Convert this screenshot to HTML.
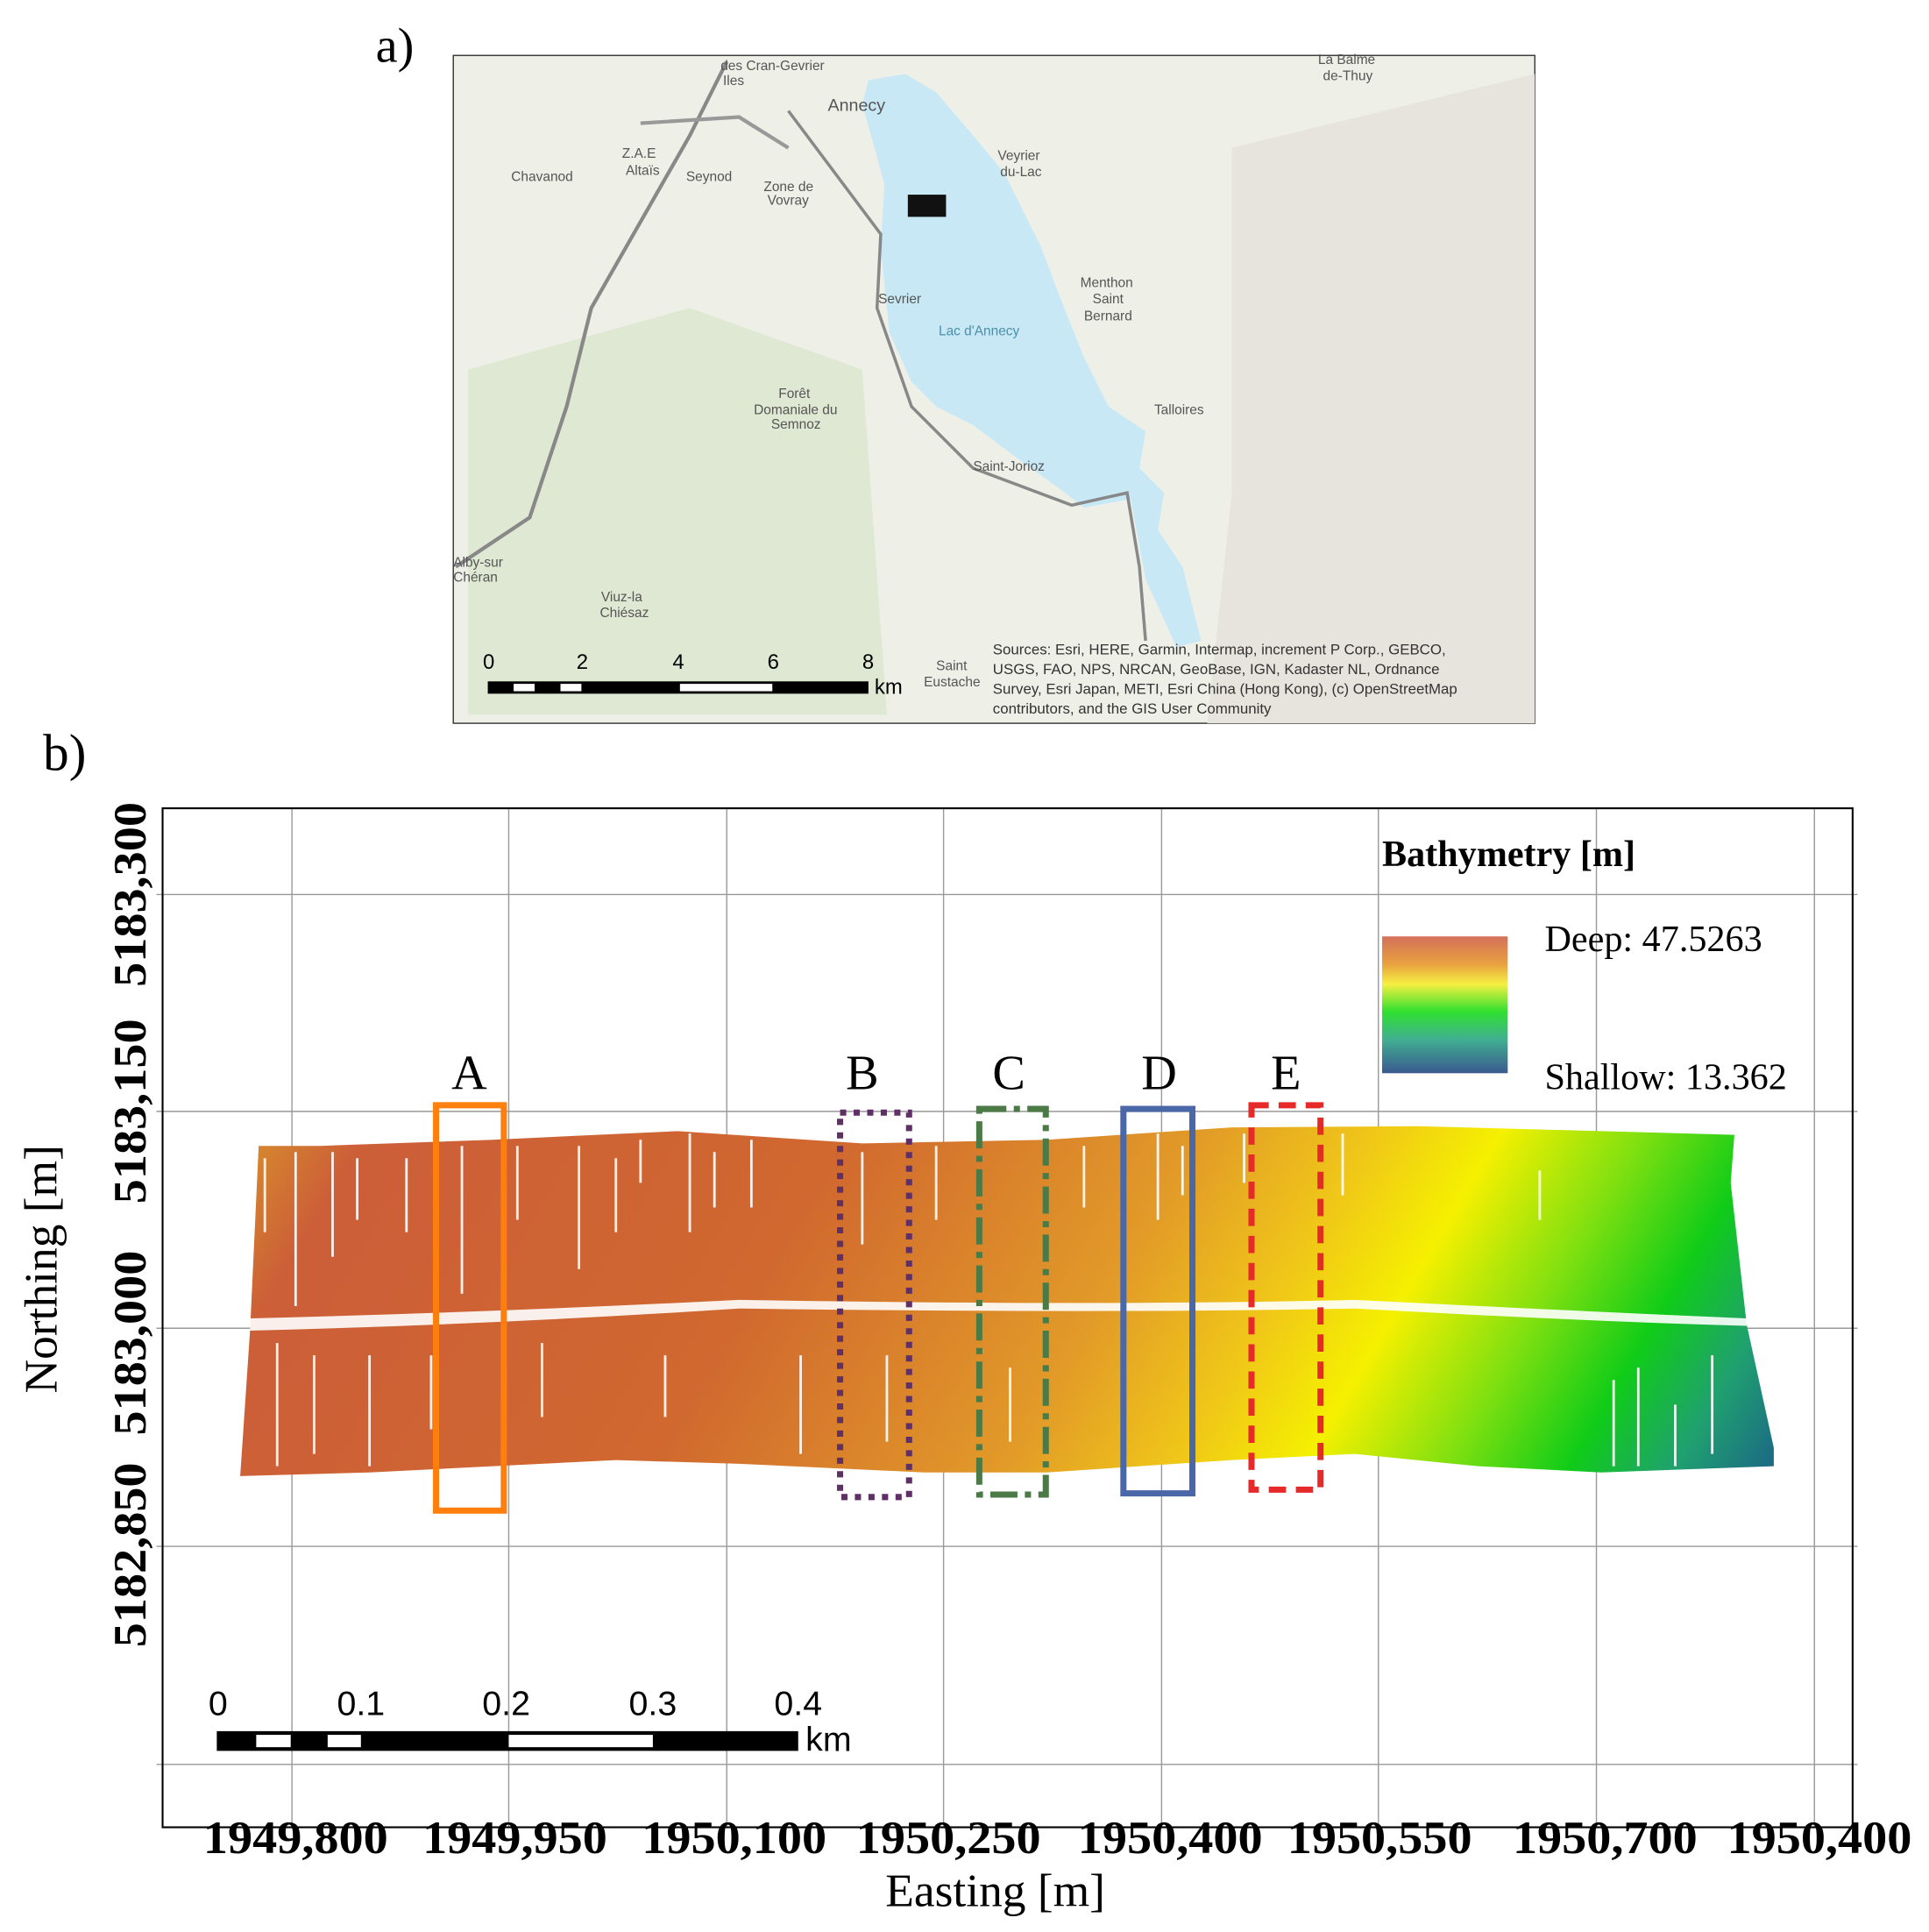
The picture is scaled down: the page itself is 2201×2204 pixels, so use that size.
<!DOCTYPE html>
<html><head><meta charset="utf-8"><style>
html,body{margin:0;padding:0;background:#fff;}
svg{display:block;}
</style></head><body>
<svg width="2201" height="2204" viewBox="0 0 1566 1568" preserveAspectRatio="none" xmlns="http://www.w3.org/2000/svg">
<defs>
<linearGradient id="bath" x1="195" y1="900" x2="1260" y2="1530" gradientUnits="userSpaceOnUse">
<stop offset="0" stop-color="#d8952c"/>
<stop offset="0.08" stop-color="#cc5e38"/>
<stop offset="0.35" stop-color="#d0682f"/>
<stop offset="0.55" stop-color="#e29a28"/>
<stop offset="0.65" stop-color="#f0c818"/>
<stop offset="0.72" stop-color="#f5f000"/>
<stop offset="0.8" stop-color="#80e010"/>
<stop offset="0.87" stop-color="#10cc18"/>
<stop offset="0.93" stop-color="#20a070"/>
<stop offset="1" stop-color="#1a5a8a"/>
</linearGradient>
<linearGradient id="cbar" x1="0" y1="0" x2="0" y2="1">
<stop offset="0" stop-color="#d4705a"/>
<stop offset="0.2" stop-color="#e8a040"/>
<stop offset="0.35" stop-color="#f5f040"/>
<stop offset="0.55" stop-color="#30e030"/>
<stop offset="0.75" stop-color="#40b090"/>
<stop offset="1" stop-color="#3a5a90"/>
</linearGradient>
</defs>
<!-- panel a -->
<text x="305" y="50" font-family="Liberation Serif" font-size="40">a)</text>
<rect x="368" y="45" width="878" height="542" fill="#eef0e8" stroke="#333" stroke-width="1"/>
<path d="M380 300 L560 250 L700 300 L720 580 L380 580Z" fill="#dfe8d2"/>
<path d="M1000 120 L1246 60 L1246 587 L980 587 L1000 400Z" fill="#e6e4dc"/>
<path d="M705 65 L735 60 L760 75 L790 110 L815 140 L845 200 L860 240 L880 290 L900 330 L930 350 L925 380 L945 400 L940 430 L960 460 L975 520 L955 525 L930 470 L918 405 L880 412 L862 398 L830 375 L790 345 L760 330 L740 310 L722 270 L715 200 L718 150 L710 120 L700 85Z" fill="#c8e8f6"/>
<rect x="737" y="158" width="31" height="18" fill="#111"/>
<path d="M590 50 L560 110 L480 250 L460 330 L430 420 L370 460" stroke="#888" stroke-width="3" fill="none"/>
<path d="M640 90 L715 190 L712 250 L740 330 L790 380 L870 410 L915 400 L925 460 L930 520" stroke="#888" stroke-width="2.5" fill="none"/>
<path d="M520 100 L600 95 L640 120" stroke="#999" stroke-width="3" fill="none"/>
<g font-family="Liberation Sans" font-size="11" fill="#555">
<text x="585" y="57">des Cran-Gevrier</text><text x="587" y="69">Iles</text>
<text x="672" y="90" font-size="14">Annecy</text>
<text x="415" y="147">Chavanod</text><text x="505" y="128">Z.A.E</text><text x="508" y="142">Altaïs</text>
<text x="557" y="147">Seynod</text><text x="620" y="155">Zone de</text><text x="623" y="166">Vovray</text>
<text x="810" y="130">Veyrier</text><text x="812" y="143">du-Lac</text>
<text x="713" y="246">Sevrier</text><text x="762" y="272" fill="#4a90a8">Lac d'Annecy</text>
<text x="877" y="233">Menthon</text><text x="887" y="246">Saint</text><text x="880" y="260">Bernard</text>
<text x="937" y="336">Talloires</text><text x="790" y="382">Saint-Jorioz</text>
<text x="632" y="323">Forêt</text><text x="612" y="336">Domaniale du</text><text x="626" y="348">Semnoz</text>
<text x="488" y="488">Viuz-la</text><text x="487" y="501">Chiésaz</text>
<text x="1070" y="52">La Balme</text><text x="1074" y="65">de-Thuy</text>
<text x="368" y="460">Alby-sur</text><text x="368" y="472">Chéran</text>
<text x="760" y="544">Saint</text><text x="750" y="557">Eustache</text>
</g>
<g font-family="Liberation Sans" font-size="12" fill="#333">
<text x="806" y="531">Sources: Esri, HERE, Garmin, Intermap, increment P Corp., GEBCO,</text>
<text x="806" y="547">USGS, FAO, NPS, NRCAN, GeoBase, IGN, Kadaster NL, Ordnance</text>
<text x="806" y="563">Survey, Esri Japan, METI, Esri China (Hong Kong), (c) OpenStreetMap</text>
<text x="806" y="579">contributors, and the GIS User Community</text>
</g>
<g font-family="Liberation Sans" font-size="17" fill="#000">
<text x="392" y="543">0</text><text x="468" y="543">2</text><text x="546" y="543">4</text><text x="623" y="543">6</text><text x="700" y="543">8</text>
<text x="710" y="563">km</text>
</g>
<rect x="396" y="553" width="309" height="10" fill="#000"/>
<rect x="417" y="555" width="17" height="6" fill="#fff"/><rect x="455" y="555" width="17" height="6" fill="#fff"/><rect x="552" y="555" width="75" height="6" fill="#fff"/>
<!-- panel b -->
<text x="35" y="625" font-family="Liberation Serif" font-size="42">b)</text>
<g stroke="#999" stroke-width="1">
<line x1="237" y1="656" x2="237" y2="1483"/><line x1="413" y1="656" x2="413" y2="1483"/><line x1="590" y1="656" x2="590" y2="1483"/><line x1="766" y1="656" x2="766" y2="1483"/><line x1="943" y1="656" x2="943" y2="1483"/><line x1="1119" y1="656" x2="1119" y2="1483"/><line x1="1296" y1="656" x2="1296" y2="1483"/><line x1="1473" y1="656" x2="1473" y2="1483"/>
<line x1="127" y1="726" x2="1508" y2="726"/><line x1="127" y1="902" x2="1508" y2="902"/><line x1="127" y1="1078" x2="1508" y2="1078"/><line x1="127" y1="1255" x2="1508" y2="1255"/><line x1="127" y1="1432" x2="1508" y2="1432"/>
</g>
<rect x="132" y="656" width="1372" height="827" fill="none" stroke="#000" stroke-width="1.5"/>
<path d="M210 930 L260 930 L400 925 L550 918 L700 928 L850 925 L1000 915 L1150 914 L1300 918 L1408 921 L1405 960 L1418 1075 L1440 1175 L1440 1190 L1300 1195 L1200 1190 L1100 1180 L1000 1185 L850 1195 L750 1195 L600 1188 L500 1185 L400 1190 L300 1195 L195 1198 L203 1080Z" fill="url(#bath)"/>
<path d="M203 1070 Q400 1065 600 1055 Q900 1060 1100 1055 Q1300 1065 1418 1070 L1418 1076 Q1300 1073 1100 1062 Q900 1066 600 1062 Q400 1075 203 1080Z" fill="#fff" opacity="0.9"/>
<g stroke="#fff" stroke-width="2" opacity="0.9">
<line x1="240" y1="935" x2="240" y2="1060"/><line x1="270" y1="935" x2="270" y2="1020"/><line x1="300" y1="1100" x2="300" y2="1190"/><line x1="330" y1="940" x2="330" y2="1000"/><line x1="375" y1="930" x2="375" y2="1050"/><line x1="420" y1="930" x2="420" y2="990"/><line x1="470" y1="930" x2="470" y2="1030"/><line x1="520" y1="925" x2="520" y2="960"/><line x1="560" y1="920" x2="560" y2="1000"/><line x1="610" y1="925" x2="610" y2="980"/><line x1="650" y1="1100" x2="650" y2="1180"/><line x1="700" y1="935" x2="700" y2="1010"/><line x1="760" y1="930" x2="760" y2="990"/><line x1="880" y1="930" x2="880" y2="980"/><line x1="940" y1="920" x2="940" y2="990"/><line x1="1010" y1="920" x2="1010" y2="960"/><line x1="1090" y1="920" x2="1090" y2="970"/><line x1="1250" y1="950" x2="1250" y2="990"/><line x1="1330" y1="1110" x2="1330" y2="1190"/><line x1="1390" y1="1100" x2="1390" y2="1180"/><line x1="225" y1="1090" x2="225" y2="1190"/><line x1="255" y1="1100" x2="255" y2="1180"/>
<line x1="215" y1="940" x2="215" y2="1000"/><line x1="290" y1="940" x2="290" y2="990"/><line x1="350" y1="1100" x2="350" y2="1160"/><line x1="440" y1="1090" x2="440" y2="1150"/><line x1="500" y1="940" x2="500" y2="1000"/><line x1="580" y1="935" x2="580" y2="980"/><line x1="540" y1="1100" x2="540" y2="1150"/><line x1="720" y1="1100" x2="720" y2="1170"/><line x1="820" y1="1110" x2="820" y2="1170"/><line x1="960" y1="930" x2="960" y2="970"/><line x1="1310" y1="1120" x2="1310" y2="1190"/><line x1="1360" y1="1140" x2="1360" y2="1190"/>
</g>
<g fill="none" stroke-width="5">
<rect x="354" y="897" width="55" height="329" stroke="#ff7f0e"/>
<rect x="682" y="903" width="56" height="312" stroke="#5e3065" stroke-dasharray="5 6"/>
<rect x="795" y="900" width="54" height="313" stroke="#4c7a46" stroke-dasharray="22 6 5 6"/>
<rect x="912" y="900" width="56" height="312" stroke="#4a68a8"/>
<rect x="1016" y="897" width="56" height="312" stroke="#e62a2a" stroke-dasharray="14 8"/>
</g>
<g font-family="Liberation Serif" font-size="40" text-anchor="middle">
<text x="381" y="884">A</text><text x="700" y="884">B</text><text x="819" y="884">C</text><text x="941" y="884">D</text><text x="1044" y="884">E</text>
</g>
<text x="1122" y="703" font-family="Liberation Serif" font-size="30" font-weight="bold">Bathymetry [m]</text>
<rect x="1122" y="760" width="102" height="111" fill="url(#cbar)"/>
<g font-family="Liberation Serif" font-size="30">
<text x="1254" y="772">Deep: 47.5263</text><text x="1254" y="884">Shallow: 13.362</text>
</g>
<g font-family="Liberation Sans" font-size="28" text-anchor="middle">
<text x="177" y="1392">0</text><text x="293" y="1392">0.1</text><text x="411" y="1392">0.2</text><text x="530" y="1392">0.3</text><text x="648" y="1392">0.4</text>
</g>
<text x="654" y="1421" font-family="Liberation Sans" font-size="28">km</text>
<rect x="176" y="1405" width="472" height="16" fill="#000"/>
<rect x="208" y="1408" width="28" height="10" fill="#fff"/><rect x="266" y="1408" width="27" height="10" fill="#fff"/><rect x="413" y="1408" width="117" height="10" fill="#fff"/>
<g font-family="Liberation Serif" font-size="38" font-weight="bold" text-anchor="middle">
<text x="240" y="1504" textLength="150" lengthAdjust="spacingAndGlyphs">1949,800</text><text x="418" y="1504" textLength="150" lengthAdjust="spacingAndGlyphs">1949,950</text><text x="596" y="1504" textLength="150" lengthAdjust="spacingAndGlyphs">1950,100</text><text x="770" y="1504" textLength="150" lengthAdjust="spacingAndGlyphs">1950,250</text><text x="950" y="1504" textLength="150" lengthAdjust="spacingAndGlyphs">1950,400</text><text x="1120" y="1504" textLength="150" lengthAdjust="spacingAndGlyphs">1950,550</text><text x="1303" y="1504" textLength="150" lengthAdjust="spacingAndGlyphs">1950,700</text><text x="1477" y="1504" textLength="150" lengthAdjust="spacingAndGlyphs">1950,400</text>
</g>
<text x="808" y="1547" font-family="Liberation Serif" font-size="38" text-anchor="middle">Easting [m]</text>
<g font-family="Liberation Serif" font-size="38" font-weight="bold" text-anchor="middle">
<text transform="translate(118,726) rotate(-90)" textLength="150" lengthAdjust="spacingAndGlyphs">5183,300</text>
<text transform="translate(118,902) rotate(-90)" textLength="150" lengthAdjust="spacingAndGlyphs">5183,150</text>
<text transform="translate(118,1090) rotate(-90)" textLength="150" lengthAdjust="spacingAndGlyphs">5183,000</text>
<text transform="translate(118,1262) rotate(-90)" textLength="150" lengthAdjust="spacingAndGlyphs">5182,850</text>
</g>
<text transform="translate(46,1030) rotate(-90)" font-family="Liberation Serif" font-size="38" text-anchor="middle">Northing [m]</text>
</svg>
</body></html>
